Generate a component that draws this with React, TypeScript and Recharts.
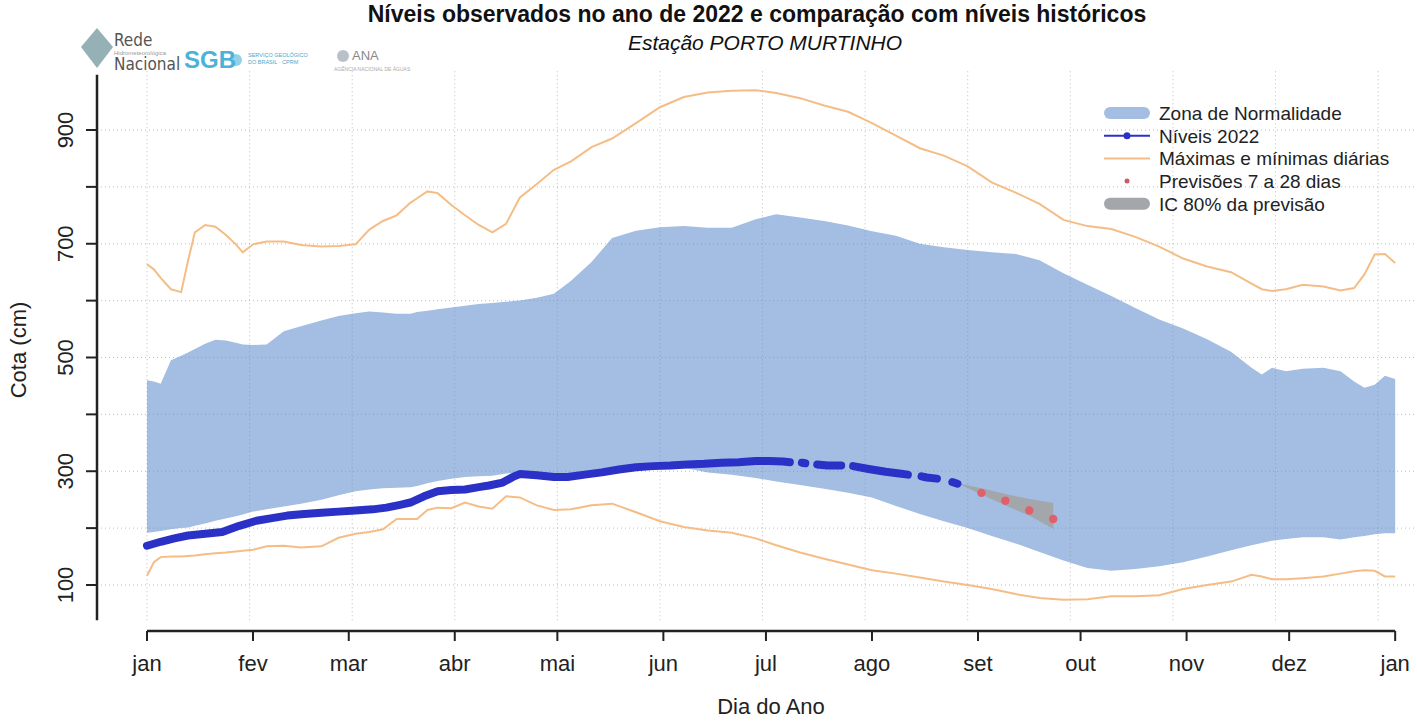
import React from "react";
import { ComposedChart, Area, Line, Scatter, XAxis, YAxis, ReferenceLine } from "recharts";

const FONT = '"Liberation Sans", Arial, Helvetica, sans-serif';

// day of year grid shared by the historical series
const days = [1, 3, 5, 8, 11, 13, 15, 18, 21, 24, 27, 29, 32, 36, 41, 46, 52, 57, 62, 66, 70, 74, 78, 80, 83, 86, 90, 94, 98, 102, 106, 110, 115, 120, 125, 131, 137, 144, 151, 158, 165, 172, 179, 185, 192, 199, 206, 213, 220, 227, 234, 241, 248, 255, 262, 269, 276, 283, 290, 297, 304, 311, 318, 324, 327, 330, 334, 339, 345, 350, 354, 357, 360, 363, 366];
const zonaLow = [192, 193, 195, 198, 200, 201, 204, 208, 213, 217, 221, 224, 229, 233, 238, 243, 250, 258, 265, 268, 270, 271, 272, 274, 279, 283, 287, 290, 291, 292, 296, 298, 294, 293, 295, 300, 303, 307, 308, 306, 298, 294, 288, 282, 276, 269, 262, 254, 239, 225, 212, 200, 186, 173, 158, 143, 130, 125, 128, 133, 140, 150, 161, 170, 174, 178, 181, 184, 184, 180, 184, 186, 189, 191, 191];
const zonaHigh = [460, 458, 454, 495, 503, 509, 515, 524, 531, 530, 526, 523, 522, 523, 546, 555, 565, 573, 578, 581, 579, 577, 577, 580, 582, 585, 588, 591, 594, 596, 598, 600, 605, 612, 635, 668, 710, 723, 729, 731, 728, 728, 743, 752, 746, 740, 732, 722, 714, 700, 694, 689, 685, 682, 671, 648, 628, 608, 587, 567, 551, 532, 510, 482, 470, 482, 476, 480, 482, 476, 458, 447, 452, 468, 462];
const maxDaily = [664, 655, 640, 620, 615, 670, 720, 733, 730, 716, 699, 685, 699, 704, 704, 698, 695, 696, 699, 725, 740, 750, 772, 780, 792, 789, 768, 750, 733, 720, 735, 781, 805, 830, 845, 870, 885, 912, 940, 958, 966, 969, 970, 965, 956, 943, 932, 912, 890, 868, 855, 836, 808, 790, 770, 742, 731, 726, 712, 695, 674, 660, 650, 630, 620, 617, 620, 628, 625, 618, 622, 646, 681, 682, 666];
const minDaily = [116, 140, 149, 150, 150, 151, 152, 154, 156, 157, 159, 160, 162, 168, 169, 166, 168, 183, 190, 193, 198, 216, 216, 216, 232, 236, 235, 245, 238, 234, 256, 254, 240, 232, 233, 240, 243, 228, 212, 202, 196, 192, 182, 170, 157, 146, 136, 126, 120, 113, 106, 100, 93, 84, 77, 74, 75, 80, 80, 82, 93, 100, 106, 118, 115, 110, 110, 112, 115, 120, 124, 126, 125, 115, 115];

// 2022 observed levels (null = no reading)
const obsDays = [1, 5, 9, 13, 18, 23, 28, 33, 38, 42, 47, 52, 57, 62, 67, 71, 75, 78, 82, 86, 90, 94, 98, 101, 105, 108, 110, 115, 120, 124, 129, 134, 139, 144, 149, 154, 159, 164, 169, 174, 179, 183, 187, 189, 190.5, 192.5, 193.5, 195, 197, 200, 204, 205.8, 207.5, 212, 217, 221, 223.5, 225.5, 227.5, 229, 232, 234.2, 236.5, 238];
const obsLevels = [169, 176, 182, 187, 190, 193, 204, 213, 218, 222, 225, 227, 229, 231, 233, 236, 241, 245, 256, 265, 267, 268, 272, 275, 280, 290, 295, 293, 290, 290, 294, 298, 303, 307, 309, 310, 312, 313, 315, 316, 318, 318, 317, 316, null, 315, 314, null, 312, 310, 310, null, 309, 304, 299, 296, 294, null, 291, 289, 287, null, 281, 278];

// forecasts and 80% interval
const forecastDays = [245, 252, 259, 266];
const forecastLevels = [262, 248, 231, 216];
const icDays = [238, 245, 252, 259, 266];
const icLow = [279, 259, 240, 222, 199];
const icHigh = [279, 270, 260, 251, 244];

const monthDays = [1, 32, 60, 91, 121, 152, 182, 213, 244, 274, 305, 335, 366];
const monthLabels = ["jan", "fev", "mar", "abr", "mai", "jun", "jul", "ago", "set", "out", "nov", "dez", "jan"];
const gridDays = [1, 31, 61, 91, 121, 151, 181, 211, 241, 271, 301, 331, 361];
const yTicks = [100, 200, 300, 400, 500, 600, 700, 800, 900];
const yLabelled = [100, 300, 500, 700, 900];

const X_DOMAIN: [number, number] = [-13.62, 372.38];
const Y_DOMAIN: [number, number] = [19.1, 1005.5];

const histData = days.map((d, i) => ({
  day: d,
  zona: [zonaLow[i], zonaHigh[i]],
  maxH: maxDaily[i],
  minH: minDaily[i],
}));
const obsData = obsDays.map((d, i) => ({ day: d, level: obsLevels[i] }));
const fcData = forecastDays.map((d, i) => ({ day: d, level: forecastLevels[i] }));
const icData = icDays.map((d, i) => ({ day: d, band: [icLow[i], icHigh[i]] }));

const COLORS = {
  zona: "#a3bde3",
  orange: "#f5bd86",
  blue: "#2b30c6",
  ic: "#a3a6ab",
  red: "#df5f6b",
  grid: "#888888",
  axis: "#222222",
};

function XTick(props: any) {
  const { x, y, payload } = props;
  const label = monthLabels[monthDays.indexOf(payload.value)] ?? "";
  return (
    <text x={x} y={y} dy="0.71em" textAnchor="middle" fontSize={22} fill="#222" fontFamily={FONT}>
      {label}
    </text>
  );
}

function YTick(props: any) {
  const { x, y, payload } = props;
  if (!yLabelled.includes(payload.value)) return <g />;
  const tx = x - 11;
  return (
    <text
      x={tx}
      y={y}
      transform={`rotate(-90 ${tx} ${y})`}
      textAnchor="middle"
      fontSize={22}
      fill="#222"
      fontFamily={FONT}
    >
      {payload.value}
    </text>
  );
}

function Overlay() {
  const rows = [113, 135.7, 158.4, 181.1, 203.8];
  const legendText = [
    "Zona de Normalidade",
    "Níveis 2022",
    "Máximas e mínimas diárias",
    "Previsões 7 a 28 dias",
    "IC 80% da previsão",
  ];
  return (
    <svg
      width={1417}
      height={721}
      style={{ position: "absolute", left: 0, top: 0, pointerEvents: "none" }}
      fontFamily={FONT}
    >
      {/* header */}
      <text x={757} y={22} textAnchor="middle" fontSize={23} fontWeight="bold" fill="#111">
        Níveis observados no ano de 2022 e comparação com níveis históricos
      </text>
      <text x={765} y={50} textAnchor="middle" fontSize={21} fontStyle="italic" fill="#111">
        Estação PORTO MURTINHO
      </text>

      {/* logos, roughly */}
      <polygon points="97,28 113,47 97,68 81,47" fill="#7a9ea3" opacity={0.8} />
      <text x={114} y={46} fontSize={17} fill="#555" fontFamily='"Liberation Sans Narrow", "DejaVu Sans Condensed", sans-serif'>Rede</text>
      <text x={114} y={55} fontSize={6} fill="#999">Hidrometeorológica</text>
      <text x={114} y={70} fontSize={17} fill="#555" fontFamily='"Liberation Sans Narrow", "DejaVu Sans Condensed", sans-serif'>Nacional</text>
      <text x={184} y={68} fontSize={24} fontWeight="bold" fill="#4cb2d9">SGB</text>
      <circle cx={236} cy={60} r={6} fill="#4cb2d9" opacity={0.6} />
      <text x={248} y={57} fontSize={5.5} fill="#49a9c9">SERVIÇO GEOLÓGICO</text>
      <text x={248} y={64} fontSize={5.5} fill="#49a9c9">DO BRASIL · CPRM</text>
      <circle cx={343} cy={56} r={6} fill="#9aa7b0" opacity={0.7} />
      <text x={352} y={60} fontSize={13} fill="#888">ANA</text>
      <text x={334} y={71} fontSize={5} fill="#aaa">AGÊNCIA NACIONAL DE ÁGUAS</text>

      {/* axis titles */}
      <text x={771} y={714} textAnchor="middle" fontSize={22} fill="#222">Dia do Ano</text>
      <text x={26} y={350} textAnchor="middle" fontSize={22} fill="#222" transform="rotate(-90 26 350)">
        Cota (cm)
      </text>

      {/* legend */}
      <rect x={1104} y={rows[0] - 6} width={46} height={12} rx={6} fill={COLORS.zona} />
      <line x1={1104} x2={1150} y1={rows[1]} y2={rows[1]} stroke={COLORS.blue} strokeWidth={2} />
      <circle cx={1127} cy={rows[1]} r={3.5} fill={COLORS.blue} />
      <line x1={1104} x2={1150} y1={rows[2]} y2={rows[2]} stroke={COLORS.orange} strokeWidth={2} />
      <circle cx={1127} cy={rows[3]} r={2.5} fill="#c85a6a" />
      <rect x={1104} y={rows[4] - 6} width={46} height={12} rx={6} fill={COLORS.ic} />
      {legendText.map((t, i) => (
        <text key={t} x={1159} y={rows[i] + 6.8} fontSize={19} fill="#222">
          {t}
        </text>
      ))}
    </svg>
  );
}

export default function App() {
  return (
    <div
      style={{
        position: "absolute",
        left: 0,
        top: 0,
        width: 1417,
        height: 721,
        background: "#fff",
        fontFamily: FONT,
        overflow: "hidden",
      }}
    >
      <ComposedChart
        width={1417}
        height={721}
        data={histData}
        margin={{ top: 70, right: 0, bottom: 30, left: 37 }}
      >
        <XAxis
          dataKey="day"
          type="number"
          domain={X_DOMAIN}
          allowDataOverflow
          ticks={monthDays}
          interval={0}
          tick={<XTick />}
          tickSize={10}
          tickMargin={14}
          axisLine={false}
          tickLine={{ stroke: COLORS.axis, strokeWidth: 2 }}
          height={60}
        />
        <YAxis
          type="number"
          domain={Y_DOMAIN}
          allowDataOverflow
          ticks={yTicks}
          interval={0}
          tick={<YTick />}
          tickSize={11}
          axisLine={false}
          tickLine={{ stroke: COLORS.axis, strokeWidth: 2 }}
          width={60}
        />

        <Area
          type="linear"
          dataKey="zona"
          stroke="none"
          fill={COLORS.zona}
          fillOpacity={1}
          isAnimationActive={false}
        />

        {yTicks.map((v) => (
          <ReferenceLine
            key={`h${v}`}
            y={v}
            stroke={COLORS.grid}
            strokeOpacity={0.55}
            strokeDasharray="1 3"
          />
        ))}
        {gridDays.map((d) => (
          <ReferenceLine
            key={`v${d}`}
            segment={[{ x: d, y: 38 }, { x: d, y: 1005 }]}
            stroke={COLORS.grid}
            strokeOpacity={0.55}
            strokeDasharray="1 3"
            ifOverflow="visible"
          />
        ))}

        <Line type="linear" dataKey="maxH" stroke={COLORS.orange} strokeWidth={2} dot={false} isAnimationActive={false} />
        <Line type="linear" dataKey="minH" stroke={COLORS.orange} strokeWidth={2} dot={false} isAnimationActive={false} />

        <Line
          data={obsData}
          type="linear"
          dataKey="level"
          stroke={COLORS.blue}
          strokeWidth={8}
          strokeLinecap="round"
          strokeLinejoin="round"
          connectNulls={false}
          dot={false}
          isAnimationActive={false}
        />

        <Area
          data={icData}
          type="linear"
          dataKey="band"
          stroke="none"
          fill={COLORS.ic}
          fillOpacity={1}
          isAnimationActive={false}
        />
        <Scatter
          data={fcData}
          dataKey="level"
          isAnimationActive={false}
          shape={(p: any) => <circle cx={p.cx} cy={p.cy} r={4.2} fill={COLORS.red} />}
        />

        {/* axis lines, R style: they do not meet at the corner */}
        <ReferenceLine
          segment={[{ x: X_DOMAIN[0], y: 38 }, { x: X_DOMAIN[0], y: 997 }]}
          stroke={COLORS.axis}
          strokeWidth={2.5}
          ifOverflow="visible"
        />
        <ReferenceLine
          segment={[{ x: 1, y: Y_DOMAIN[0] }, { x: 366, y: Y_DOMAIN[0] }]}
          stroke={COLORS.axis}
          strokeWidth={2.5}
          ifOverflow="visible"
        />
      </ComposedChart>
      <Overlay />
    </div>
  );
}
